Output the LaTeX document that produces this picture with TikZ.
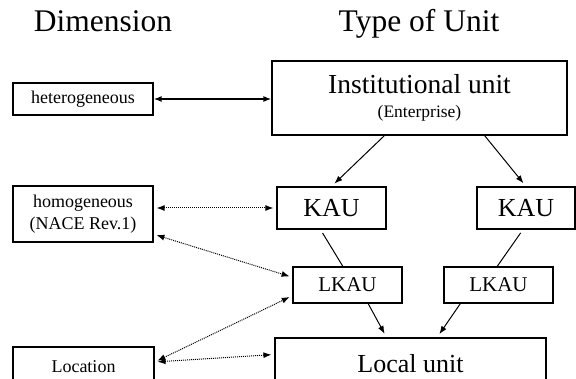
\documentclass[tikz,border=0pt]{standalone}
\usepackage{fontspec}
\setmainfont{Liberation Serif}
\usetikzlibrary{arrows.meta}
\newcommand{\titlefont}{\fontsize{31.5}{36}\selectfont}
\newcommand{\unitfont}{\fontsize{26}{30}\selectfont}
\newcommand{\dimfont}{\fontsize{18}{22}\selectfont}
\newcommand{\localfont}{\fontsize{21}{25}\selectfont}
\begin{document}
\begin{tikzpicture}[x=1pt,y=-1pt,>={Latex[length=8pt,width=6pt]},
  box/.style={draw,line width=1.2pt,inner sep=0pt,align=center},
  dots/.style={<->,densely dotted,line width=1pt,shorten >=3pt,shorten <=3pt}]
\useasboundingbox (0,0) rectangle (576,379);
\clip (0,0) rectangle (576,379);
% headings
\node[anchor=base,font=\titlefont] (dim) at (103,32) {Dimension};
\node[anchor=base,font=\titlefont] (type) at (419,32) {Type of Unit};
% dimension boxes
\node[box,minimum width=140pt,minimum height=32pt,font=\dimfont] (het) at (83,99) {heterogeneous};
\node[box,minimum width=140pt,minimum height=56pt,font=\dimfont] (homog) at (83,214) {homogeneous\\(NACE Rev.1)};
\node[box,minimum width=141pt,minimum height=40pt,font=\dimfont] (loc) at (83.5,367) {Location};
% unit boxes
\node[box,minimum width=295pt,minimum height=74pt] (inst) at (419.5,98)
  {\fontsize{27.5}{32}\selectfont Institutional unit\\[10pt]\fontsize{17.5}{21}\selectfont(Enterprise)};
\node[box,minimum width=109pt,minimum height=42pt,font=\unitfont] (kauL) at (331.5,208) {KAU};
\node[box,minimum width=98pt,minimum height=42pt,font=\unitfont] (kauR) at (526,208) {KAU};
\node[box,minimum width=109pt,minimum height=36pt,font=\localfont] (lkauL) at (347.5,285) {LKAU};
\node[box,minimum width=109pt,minimum height=36pt,font=\localfont] (lkauR) at (498.5,285) {LKAU};
\node[box,minimum width=271pt,minimum height=52pt,font=\unitfont] (local) at (410.5,364) {Local unit};
% hierarchy
\draw[->,line width=1pt,shorten >=4pt] (inst.227) -- (kauL.north);
\draw[->,line width=1pt,shorten >=4pt] (inst.330.5) -- (kauR.north);
\draw[line width=1pt,shorten <=4pt] (kauL.243.4) -- (lkauL.104);
\draw[line width=1pt,shorten <=4pt] (kauR.262) -- (lkauR.94.8);
\draw[->,line width=1pt,shorten >=4pt] (lkauL.318.7) -- (local.132.6);
\draw[->,line width=1pt,shorten >=4pt] (lkauR.206.9) -- (local.45.5);
% dimension links
\draw[<->,line width=1.6pt] (het.east) -- (het.east -| inst.west);
\draw[dots] (kauL.west -| homog.east) -- (kauL.west);
\draw[dots] (homog.344.1) -- (lkauL.172.7);
\draw[dots] (loc.4.9) -- (local.176.6);
\draw[dots] (loc.4.9) -- (lkauL.191.4);
\end{tikzpicture}
\end{document}
